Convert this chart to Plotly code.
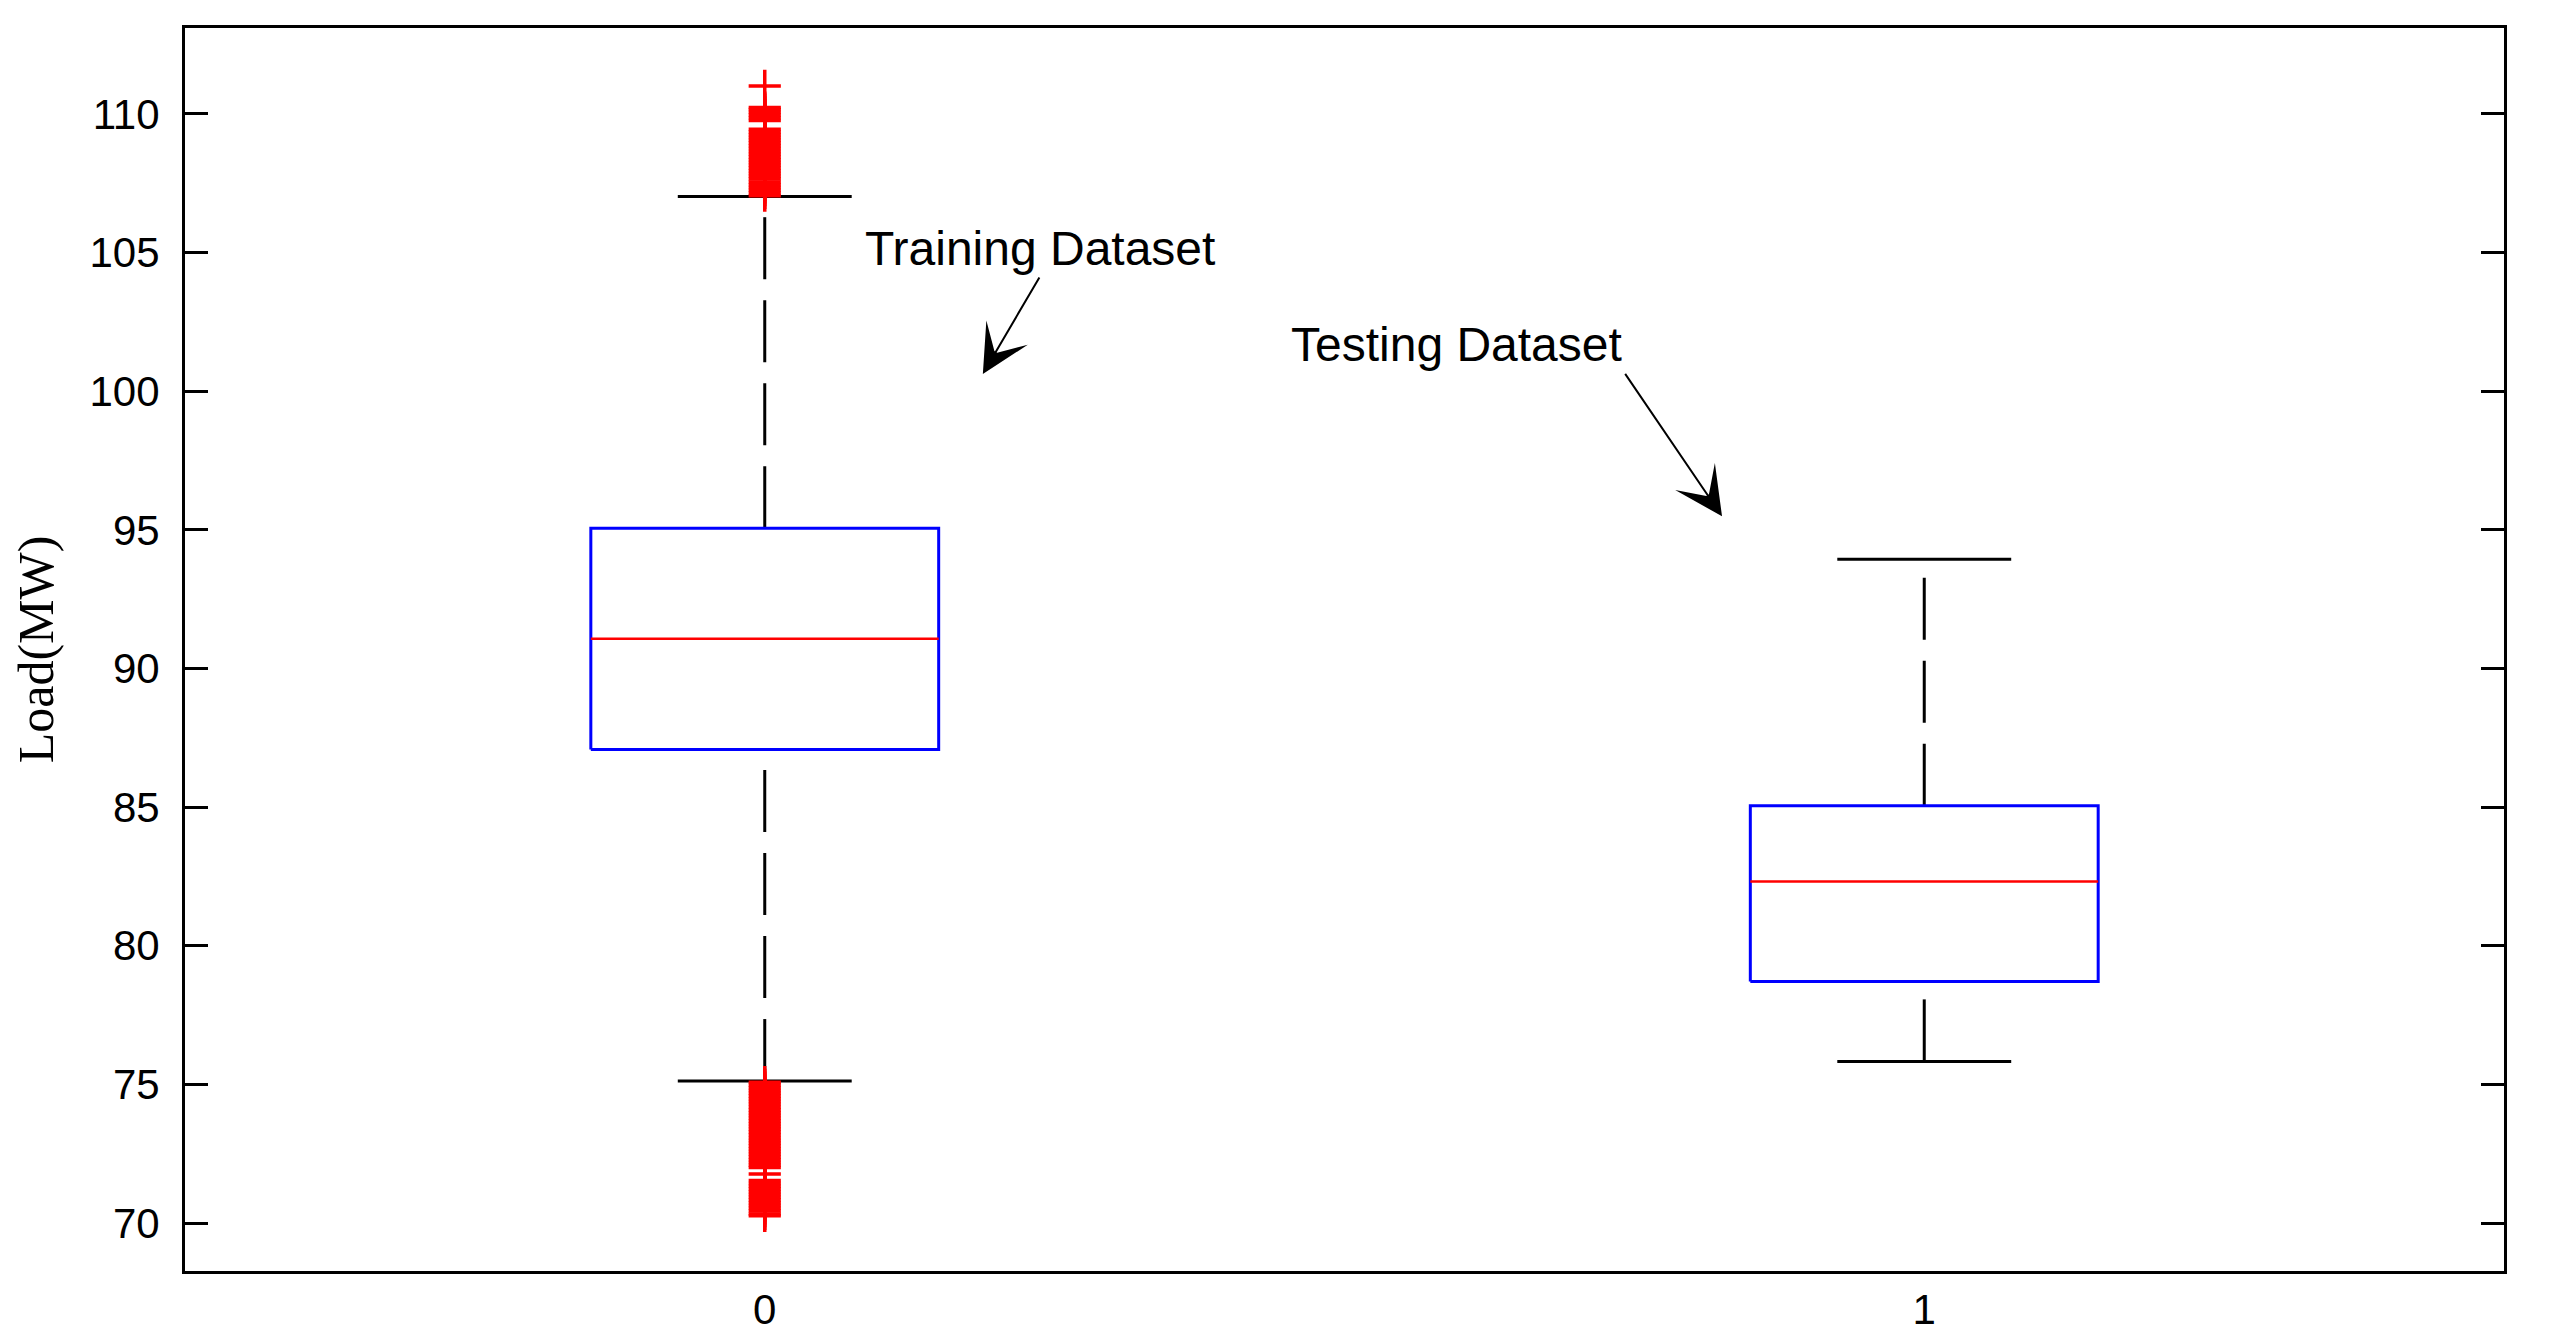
import plotly.graph_objects as go

# ---- data ----
categories = [0, 1]
tick_labels = ["0", "1"]
q1 = [87.08, 78.71]
median = [91.07, 82.32]
q3 = [95.06, 85.05]
whisker_low = [75.12, 75.83]
whisker_high = [107.02, 93.94]

outliers_high = [107.05, 107.15, 107.25, 107.35, 107.45, 107.55, 107.65, 107.75,
                 107.85, 107.95, 108.05, 108.15, 108.25, 108.35, 108.45, 108.55,
                 108.65, 108.75, 108.85, 108.95, 109.05, 109.15, 109.25, 109.35,
                 109.45, 109.76, 109.86, 109.96, 110.06, 110.16, 110.23, 111.01]
outliers_low = [75.08, 74.98, 74.88, 74.78, 74.68, 74.58, 74.48, 74.38, 74.28,
                74.18, 74.08, 73.98, 73.88, 73.78, 73.68, 73.58, 73.48, 73.38,
                73.28, 73.18, 73.08, 72.98, 72.88, 72.78, 72.68, 72.58, 72.48,
                72.38, 72.28, 72.18, 72.08, 72.00, 71.77, 71.53, 71.43, 71.33,
                71.23, 71.13, 71.03, 70.93, 70.83, 70.73, 70.63, 70.53, 70.43,
                70.33, 70.26]
outlier_group = 0

y_ticks = [70, 75, 80, 85, 90, 95, 100, 105, 110]

# ---- style constants ----
BOX_HW = 0.15
CAP_HW = 0.075
DASH = "62px,21px"

fig = go.Figure()

for i, c in enumerate(categories):
    # lower whisker (drawn from whisker end to box)
    fig.add_trace(go.Scatter(x=[c, c], y=[whisker_low[i], q1[i]], mode="lines",
                             line=dict(color="black", width=3, dash=DASH),
                             showlegend=False, hoverinfo="skip"))
    # upper whisker (drawn from box to whisker end)
    fig.add_trace(go.Scatter(x=[c, c], y=[q3[i], whisker_high[i]], mode="lines",
                             line=dict(color="black", width=3, dash=DASH),
                             showlegend=False, hoverinfo="skip"))
    # caps
    for w in (whisker_low[i], whisker_high[i]):
        fig.add_trace(go.Scatter(x=[c - CAP_HW, c + CAP_HW], y=[w, w], mode="lines",
                                 line=dict(color="black", width=3),
                                 showlegend=False, hoverinfo="skip"))
    # box
    fig.add_trace(go.Scatter(
        x=[c - BOX_HW, c + BOX_HW, c + BOX_HW, c - BOX_HW, c - BOX_HW],
        y=[q1[i], q1[i], q3[i], q3[i], q1[i]], mode="lines",
        line=dict(color="#0000ff", width=3),
        showlegend=False, hoverinfo="skip"))
    # median
    fig.add_trace(go.Scatter(x=[c - BOX_HW, c + BOX_HW], y=[median[i], median[i]],
                             mode="lines", line=dict(color="#ff0000", width=2.5),
                             showlegend=False, hoverinfo="skip"))

# outliers
all_out = outliers_high + outliers_low
fig.add_trace(go.Scatter(
    x=[categories[outlier_group]] * len(all_out), y=all_out, mode="markers",
    marker=dict(symbol="cross-thin", size=23, color="#ff0000",
                line=dict(color="#ff0000", width=3.5)),
    showlegend=False, hoverinfo="skip"))

# annotations
fig.add_annotation(x=0.237, y=105.13, text="Training Dataset", showarrow=False,
                   font=dict(family="Liberation Sans, Arial", size=48, color="black"))
fig.add_annotation(x=0.597, y=101.67, text="Testing Dataset", showarrow=False,
                   font=dict(family="Liberation Sans, Arial", size=48, color="black"))
fig.add_annotation(x=0.1881, y=100.62, ax=0.2376, ay=104.16, axref="x", ayref="y",
                   xref="x", yref="y", text="", showarrow=True,
                   arrowhead=3, arrowwidth=2, arrowsize=4, arrowcolor="black")
fig.add_annotation(x=0.8256, y=95.49, ax=0.7412, ay=100.68, axref="x", ayref="y",
                   xref="x", yref="y", text="", showarrow=True,
                   arrowhead=3, arrowwidth=2, arrowsize=4, arrowcolor="black")

fig.update_layout(
    width=2549, height=1344,
    margin=dict(l=177, r=53, t=20, b=81),
    paper_bgcolor="white", plot_bgcolor="white",
    font=dict(family="Liberation Sans, Arial", size=42, color="black"),
    xaxis=dict(range=[-0.5, 1.5], tickvals=categories, ticktext=tick_labels,
               showgrid=False, zeroline=False, ticks="", showline=True,
               linecolor="black", linewidth=3, mirror=True,
               tickfont=dict(size=42)),
    yaxis=dict(range=[68.27, 113.1], tickvals=y_ticks, showgrid=False,
               zeroline=False, ticks="inside", ticklen=23, tickwidth=3,
               tickcolor="black", showline=True, linecolor="black", linewidth=3,
               mirror="ticks", tickfont=dict(size=42), ticklabelstandoff=14,
               title=dict(text="Load(MW)", standoff=24,
                          font=dict(family="Liberation Serif, Times New Roman", size=50))),
)

fig.write_html("out.html")
